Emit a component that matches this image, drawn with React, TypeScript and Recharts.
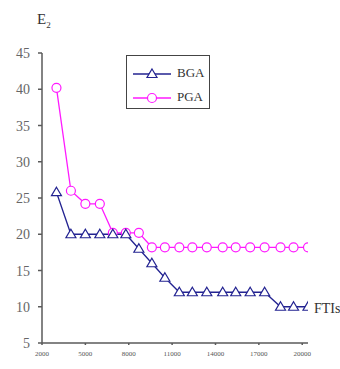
import React from 'react';
import { LineChart, Line, XAxis, YAxis } from 'recharts';

// function evaluations (x) and error values
const ftis = [3000, 4000, 5000, 6000, 6900, 7800, 8700, 9600, 10500, 11500, 12400, 13400, 14500, 15400, 16400, 17400, 18500, 19400, 20400];
const bgaValues = [25.8, 20, 20, 20, 20, 20, 18, 16, 14, 12, 12, 12, 12, 12, 12, 12, 10, 10, 10];
const pgaValues = [40.2, 26, 24.2, 24.2, 20.2, 20.2, 20.2, 18.2, 18.2, 18.2, 18.2, 18.2, 18.2, 18.2, 18.2, 18.2, 18.2, 18.2, 18.2];
const xTicks = [2000, 5000, 8000, 11000, 14000, 17000, 20000];
const yTicks = [5, 10, 15, 20, 25, 30, 35, 40, 45];

const data = ftis.map((x, i) => ({ x, bga: bgaValues[i], pga: pgaValues[i] }));

const BLUE = '#232391';
const PINK = '#ff1aff';
const AXIS = '#5a5a5a';
const SERIF = "'Liberation Serif', 'Times New Roman', 'DejaVu Serif', serif";

const Triangle = ({ cx, cy, stroke }: any) => (
  <path
    d={`M${cx},${cy - 5} L${cx + 5},${cy + 3.5} L${cx - 5},${cy + 3.5} Z`}
    fill="#fff"
    stroke={stroke}
    strokeWidth={1.2}
  />
);

const Circle = ({ cx, cy, stroke }: any) => (
  <circle cx={cx} cy={cy} r={4.5} fill="#fff" stroke={stroke} strokeWidth={1.2} />
);

const XTick = ({ x, y, payload }: any) => (
  <text x={x} y={y + 8} textAnchor="middle" fontSize={7} fill="#555" style={{ fontFamily: SERIF }}>
    {payload.value}
  </text>
);

const YTick = ({ x, y, payload }: any) => (
  <text x={x} y={y + 5} textAnchor="end" fontSize={14} fill="#666" style={{ fontFamily: SERIF }}>
    {payload.value}
  </text>
);

const LegendBox = () => (
  <div
    style={{
      position: 'absolute',
      left: 126,
      top: 55,
      width: 84,
      height: 54,
      border: '1px solid #444',
      background: '#fff',
      fontFamily: SERIF,
      fontSize: 13,
      color: '#333',
      boxSizing: 'border-box',
    }}
  >
    {[
      { name: 'BGA', color: BLUE, y: 18, Marker: Triangle },
      { name: 'PGA', color: PINK, y: 42, Marker: Circle },
    ].map(({ name, color, y, Marker }) => (
      <React.Fragment key={name}>
        <svg width={44} height={14} style={{ position: 'absolute', left: 6, top: y - 7 }}>
          <line x1={0} y1={7} x2={38} y2={7} stroke={color} strokeWidth={1.3} />
          <Marker cx={19} cy={7} stroke={color} />
        </svg>
        <span style={{ position: 'absolute', left: 50, top: y - 9, lineHeight: '16px' }}>{name}</span>
      </React.Fragment>
    ))}
  </div>
);

export default function App() {
  return (
    <div style={{ position: 'absolute', left: 0, top: 0, width: 340, height: 369, background: '#fff' }}>
      <LineChart width={340} height={369} data={data} margin={{ top: 53, right: 32, bottom: 10, left: 0 }}>
        <XAxis
          dataKey="x"
          type="number"
          domain={[2000, 20400]}
          ticks={xTicks}
          interval={0}
          allowDataOverflow
          stroke={AXIS}
          strokeWidth={1.5}
          tickSize={2}
          tickMargin={3}
          height={16}
          tick={<XTick />}
          label={({ viewBox }: any) => (
            <text
              x={viewBox.x + viewBox.width + 6}
              y={viewBox.y - 30}
              fontSize={14}
              fill="#333"
              style={{ fontFamily: SERIF }}
            >
              FTIs
            </text>
          )}
        />
        <YAxis
          type="number"
          domain={[5, 45]}
          ticks={yTicks}
          interval={0}
          width={42}
          stroke={AXIS}
          strokeWidth={1.5}
          tickSize={4}
          tickMargin={8}
          tick={<YTick />}
          label={({ viewBox }: any) => (
            <text x={viewBox.x + viewBox.width - 5} y={viewBox.y - 29} fontSize={15} fill="#333" style={{ fontFamily: SERIF }}>
              E
              <tspan fontSize={9} dy={4}>2</tspan>
            </text>
          )}
        />
        <Line
          dataKey="pga"
          stroke={PINK}
          strokeWidth={1.3}
          isAnimationActive={false}
          dot={(p: any) => <Circle key={`p${p.index}`} cx={p.cx} cy={p.cy} stroke={PINK} />}
        />
        <Line
          dataKey="bga"
          stroke={BLUE}
          strokeWidth={1.3}
          isAnimationActive={false}
          dot={(p: any) => <Triangle key={`b${p.index}`} cx={p.cx} cy={p.cy} stroke={BLUE} />}
        />
      </LineChart>
      <LegendBox />
    </div>
  );
}
